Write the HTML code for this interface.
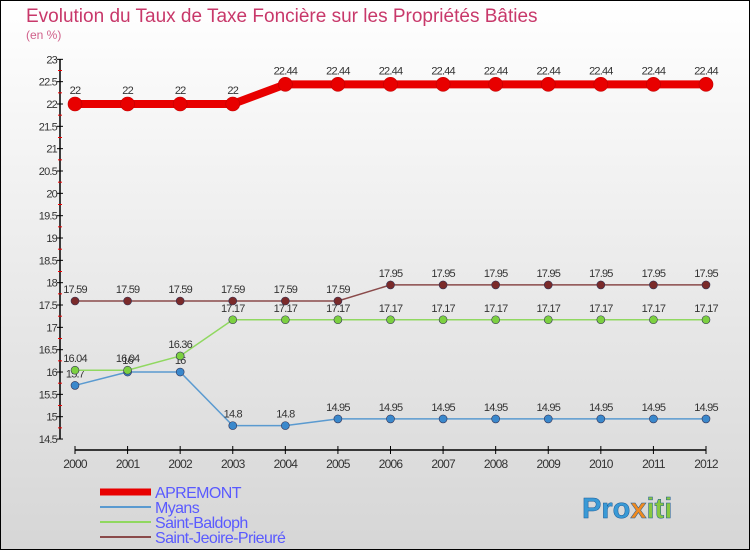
<!DOCTYPE html>
<html><head><meta charset="utf-8"><style>
body{margin:0;width:750px;height:550px;overflow:hidden}
svg{display:block;font-family:"Liberation Sans",sans-serif}
</style></head><body>
<svg id="c" width="750" height="550">
<defs><linearGradient id="bg" x1="0" y1="0" x2="0" y2="1"><stop offset="0" stop-color="#ffffff"/><stop offset="1" stop-color="#d6d6d6"/></linearGradient></defs>
<rect x="0.5" y="0.5" width="749" height="549" fill="url(#bg)" stroke="#000"/>
<text x="26" y="22" font-size="19" fill="#c8386a">Evolution du Taux de Taxe Foncière sur les Propriétés Bâties</text>
<text x="26" y="39" font-size="12" fill="#d0608a">(en %)</text>
<g id="axes"></g><g id="series"></g><g id="legend"></g>
<text x="582" y="518" font-size="29" font-weight="bold" fill="#3a9ad6" stroke="#1a5a96" stroke-width="0.5">Pro<tspan fill="#f08a20">x</tspan><tspan fill="#88c840">iti</tspan></text>
</svg>
<script>
const years=[2000,2001,2002,2003,2004,2005,2006,2007,2008,2009,2010,2011,2012];
const yTicks=[14.5,15,15.5,16,16.5,17,17.5,18,18.5,19,19.5,20,20.5,21,21.5,22,22.5,23];
const apremont=[22,22,22,22,22.44,22.44,22.44,22.44,22.44,22.44,22.44,22.44,22.44];
const myans=[15.7,16,16,14.8,14.8,14.95,14.95,14.95,14.95,14.95,14.95,14.95,14.95];
const baldoph=[16.04,16.04,16.36,17.17,17.17,17.17,17.17,17.17,17.17,17.17,17.17,17.17,17.17];
const jeoire=[17.59,17.59,17.59,17.59,17.59,17.59,17.95,17.95,17.95,17.95,17.95,17.95,17.95];
const names=["APREMONT","Myans","Saint-Baldoph","Saint-Jeoire-Prieuré"];
const NS="http://www.w3.org/2000/svg";
function X(i){return 75+i*(706-75)/(years.length-1);}
function Y(v){return 104+(22-v)*44.67;}
function mk(t,a,p){const e=document.createElementNS(NS,t);for(const k in a)e.setAttribute(k,a[k]);p.appendChild(e);return e;}
const ax=document.getElementById('axes');
const yl=mk('line',{x1:60,y1:Y(23),x2:60,y2:Y(14.5),stroke:'#000','stroke-width':1.5},ax);


yTicks.forEach(v=>{
 mk('line',{x1:57,y1:Y(v),x2:63,y2:Y(v),stroke:'#000'},ax);
 if(v<23)mk('line',{x1:58,y1:Y(v+0.25),x2:62,y2:Y(v+0.25),stroke:'#e00'},ax);
 const t=mk('text',{x:57,y:Y(v)+4,'text-anchor':'end','font-size':11,fill:'#333','letter-spacing':'-0.8'},ax);
 t.textContent=v;
 
 
});
const xl=mk('line',{x1:75,y1:450,x2:706,y2:450,stroke:'#000','stroke-width':1.5},ax);


years.forEach((y,i)=>{
 mk('line',{x1:X(i),y1:446,x2:X(i),y2:454,stroke:'#000'},ax);
 const t=mk('text',{x:X(i),y:468,'text-anchor':'middle','font-size':12,fill:'#333','letter-spacing':'-0.8'},ax);
 t.textContent=y;
 
 
});
const S=[[apremont,'#e80000',8,7],[myans,'#5a9ad0',1.5,4],[baldoph,'#90d860',1.5,4],[jeoire,'#8a4a4a',1.5,4]];
const fills=['#e80000','#3a88cc','#7cd040','#7a2a2a'];
const sg=document.getElementById('series');
S.forEach((s,k)=>{
 const g=mk('g',{},sg);
 
 
 mk('polyline',{points:s[0].map((v,i)=>X(i)+','+Y(v)).join(' '),fill:'none',stroke:s[1],'stroke-width':s[2]},g);
 s[0].forEach((v,i)=>{
  const c=mk('circle',{cx:X(i),cy:Y(v),r:s[3],fill:fills[k],stroke:k==0?'#c00000':'#335','stroke-width':0.6},g);
  
  
  const t=mk('text',{x:X(i),y:Y(v)-(k==0?10:8),'text-anchor':'middle','font-size':11,fill:'#333','letter-spacing':'-0.8'},g);
  t.textContent=v;
  
  
 });
});
const lg=document.getElementById('legend');
S.forEach((s,k)=>{
 const y=492+k*15;
 const g=mk('g',{},lg);
 
 
 mk('line',{x1:100,y1:y,x2:151,y2:y,stroke:s[1],'stroke-width':k==0?7:2},g);
 const t=mk('text',{x:155,y:y+6,'font-size':16,fill:'#5a5aff','letter-spacing':'-0.6'},g);
 t.textContent=names[k];
});
</script>
</body></html>
